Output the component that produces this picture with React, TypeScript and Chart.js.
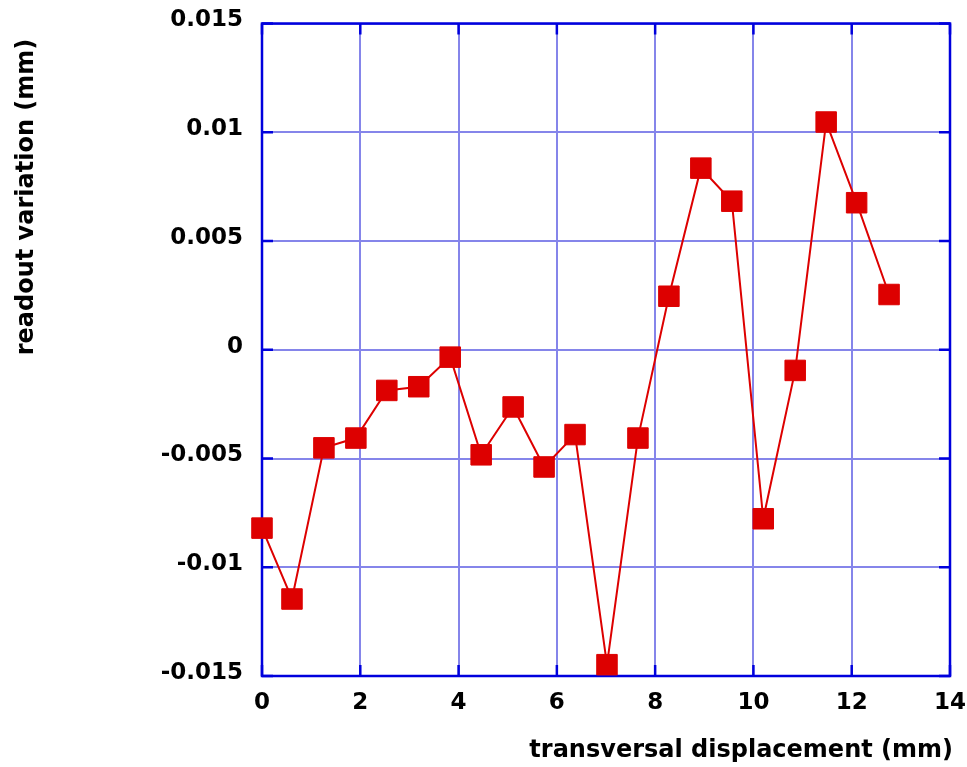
import React, { useEffect, useRef } from "react";
import { Chart, registerables } from "chart.js";

Chart.register(...registerables);

const displacement = [0, 0.61, 1.26, 1.91, 2.54, 3.19, 3.83, 4.46, 5.11, 5.74, 6.37, 7.02, 7.65, 8.28, 8.93, 9.56, 10.2, 10.85, 11.48, 12.1, 12.76];
const readout = [-0.0082, -0.01146, -0.00451, -0.00406, -0.00187, -0.0017, -0.00034, -0.00483, -0.00263, -0.00539, -0.0039, -0.01448, -0.00406, 0.00246, 0.00835, 0.00683, -0.00777, -0.00095, 0.01047, 0.00676, 0.00254];
const xTickValues = [0, 2, 4, 6, 8, 10, 12, 14];
const xTickLabels = ["0", "2", "4", "6", "8", "10", "12", "14"];
const yTickValues = [-0.015, -0.01, -0.005, 0, 0.005, 0.01, 0.015];
const yTickLabels = ["-0.015", "-0.01", "-0.005", "0", "0.005", "0.01", "0.015"];
const xTitle = "transversal displacement (mm)";
const yTitle = "readout variation (mm)";

const FONT = "'DejaVu Sans', Verdana, sans-serif";

function labelFor(values: number[], labels: string[], v: number): string {
  for (let i = 0; i < values.length; i++) {
    if (Math.abs(values[i] - v) < 1e-9) return labels[i];
  }
  return "";
}

const framePlugin = {
  id: "frame",
  beforeDatasetsDraw(chart: any) {
    const { ctx, chartArea: a, scales } = chart;
    ctx.save();
    ctx.strokeStyle = "#0000dd";
    ctx.lineWidth = 2.5;
    ctx.strokeRect(a.left, a.top, a.right - a.left, a.bottom - a.top);
    const tl = 11;
    ctx.beginPath();
    for (const v of xTickValues) {
      const px = scales.x.getPixelForValue(v);
      ctx.moveTo(px, a.bottom);
      ctx.lineTo(px, a.bottom - tl);
      ctx.moveTo(px, a.top);
      ctx.lineTo(px, a.top + tl);
    }
    for (const v of yTickValues) {
      const py = scales.y.getPixelForValue(v);
      ctx.moveTo(a.left, py);
      ctx.lineTo(a.left + tl, py);
      ctx.moveTo(a.right, py);
      ctx.lineTo(a.right - tl, py);
    }
    ctx.stroke();
    ctx.restore();
  },
  afterDraw(chart: any) {
    const { ctx, chartArea: a } = chart;
    ctx.save();
    ctx.fillStyle = "#000";
    ctx.font = `bold 24px ${FONT}`;
    ctx.textAlign = "right";
    ctx.textBaseline = "alphabetic";
    ctx.fillText(xTitle, a.right + 3, 749);
    ctx.translate(25, 189);
    ctx.rotate(-Math.PI / 2);
    ctx.textAlign = "center";
    ctx.textBaseline = "alphabetic";
    ctx.fillText(yTitle, 0, 0);
    ctx.restore();
  },
};

export default function App() {
  const ref = useRef<HTMLCanvasElement | null>(null);
  useEffect(() => {
    if (!ref.current) return;
    const points = displacement.map((x, i) => ({ x, y: readout[i] }));
    const chart = new Chart(ref.current, {
      type: "line",
      data: {
        datasets: [
          {
            data: points,
            borderColor: "#dd0000",
            backgroundColor: "#dd0000",
            borderWidth: 2,
            pointStyle: "rect",
            pointRadius: 14.5,
            pointBorderWidth: 1,
            pointBorderColor: "#dd0000",
            pointBackgroundColor: "#dd0000",
            tension: 0,
            clip: false as any,
          },
        ],
      },
      options: {
        animation: false,
        responsive: false,
        devicePixelRatio: 1,
        layout: { padding: { top: 14, right: 17, left: 0, bottom: 0 } },
        plugins: { legend: { display: false }, tooltip: { enabled: false } },
        scales: {
          x: {
            type: "linear",
            min: 0,
            max: 14,
            afterBuildTicks: (s: any) => {
              s.ticks = xTickValues.map((v) => ({ value: v }));
            },
            afterFit: (s: any) => {
              s.height = 91;
              s.paddingLeft = 0;
              s.paddingRight = 0;
            },
            ticks: {
              color: "#000",
              font: { family: FONT, size: 23, weight: "bold" },
              padding: 13,
              maxRotation: 0,
              autoSkip: false,
              callback: (v: any) => labelFor(xTickValues, xTickLabels, Number(v)),
            },
            grid: { color: "#8585ea", lineWidth: 2, drawTicks: false },
            border: { display: false },
          },
          y: {
            type: "linear",
            min: -0.015,
            max: 0.015,
            afterBuildTicks: (s: any) => {
              s.ticks = yTickValues.map((v) => ({ value: v }));
            },
            afterFit: (s: any) => {
              s.width = 254;
              s.paddingTop = 0;
              s.paddingBottom = 0;
            },
            ticks: {
              color: "#000",
              font: { family: FONT, size: 23, weight: "bold" },
              padding: 19,
              labelOffset: -3,
              autoSkip: false,
              callback: (v: any) => labelFor(yTickValues, yTickLabels, Number(v)),
            },
            grid: { color: "#8585ea", lineWidth: 2, drawTicks: false },
            border: { display: false },
          },
        },
      },
      plugins: [framePlugin],
    });
    return () => chart.destroy();
  }, []);
  return (
    <div style={{ position: "fixed", left: 8, top: 8, width: 959, height: 759 }}>
      <canvas ref={ref} width={959} height={759} style={{ display: "block" }} />
    </div>
  );
}
